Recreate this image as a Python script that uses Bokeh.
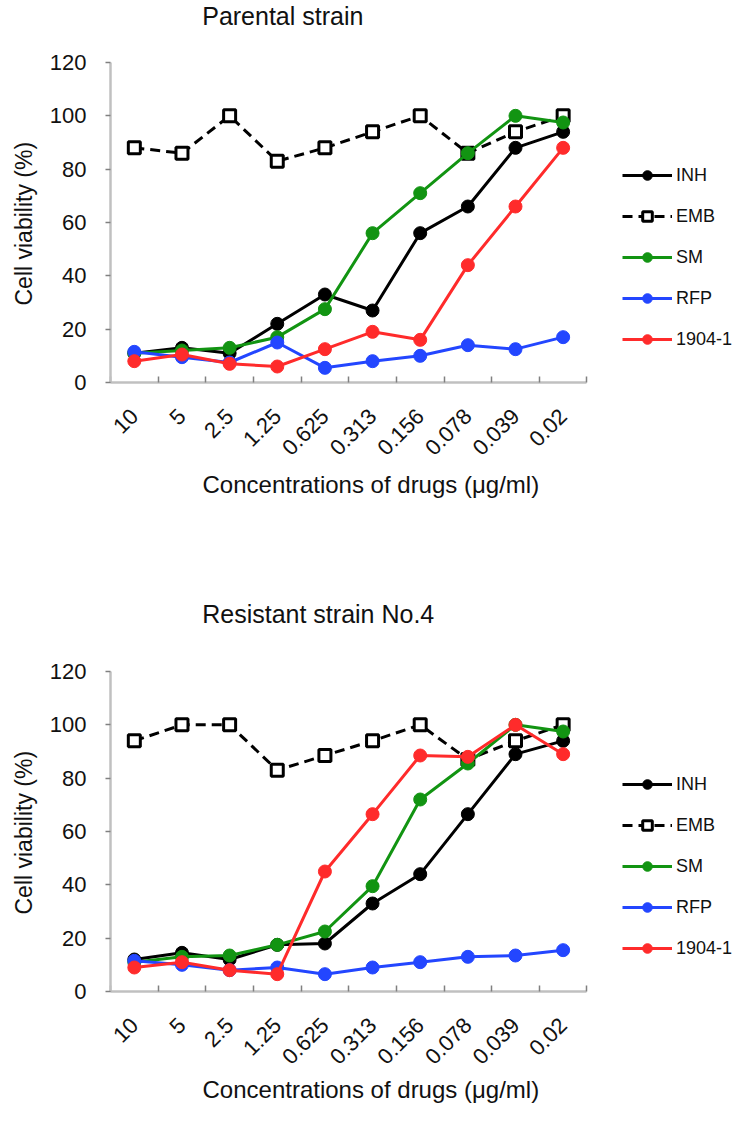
import math
from bokeh.plotting import figure
from bokeh.models import (Range1d, FixedTicker, Legend, LegendItem, LinearAxis,
                          Title, Label, ColumnDataSource)
from bokeh.layouts import column
from bokeh.embed import file_html
from bokeh.resources import INLINE

# ---------------- data ----------------
concentrations = ["10", "5", "2.5", "1.25", "0.625", "0.313", "0.156", "0.078", "0.039", "0.02"]
drugs = ["INH", "EMB", "SM", "RFP", "1904-1"]
y_ticks = [0, 20, 40, 60, 80, 100, 120]

parental_inh = [11, 13, 11, 22, 33, 27, 56, 66, 88, 94]
parental_emb = [88, 86, 100, 83, 88, 94, 100, 86, 94, 100]
parental_sm = [11, 12, 13, 17, 27.5, 56, 71, 86, 100, 97.5]
parental_rfp = [11.5, 9.5, 7.5, 15, 5.5, 8, 10, 14, 12.5, 17]
parental_1904 = [8, 10.5, 7, 6, 12.5, 19, 16, 44, 66, 88]

resistant_inh = [12, 14.5, 12, 17.5, 18, 33, 44, 66.5, 89, 94]
resistant_emb = [94, 100, 100, 83, 88.5, 94, 100, 87, 94, 100]
resistant_sm = [11, 13, 13.5, 17.5, 22.5, 39.5, 72, 85.5, 100, 97.5]
resistant_rfp = [11.5, 10, 8, 9, 6.5, 9, 11, 13, 13.5, 15.5]
resistant_1904 = [9, 11, 8, 6.5, 45, 66.5, 88.5, 88, 100, 89]

titles = ["Parental strain", "Resistant strain No.4"]
x_title = "Concentrations of drugs (\u03bcg/ml)"
y_title = "Cell viability (%)"

# ---------------- style / layout (pixels) ----------------
FONT = "Liberation Sans"
TXT = "#111111"
FIG_W = 733
LEFT = 108          # frame left border
AXIS_W = 478        # pixel length of the category axis
AXIS_H = 320        # pixel height of the 0..120 value axis
styles = {
    "INH": dict(color="#000000", dash="solid", marker="circle"),
    "EMB": dict(color="#000000", dash="10 6", marker="square"),
    "SM": dict(color="#129412", dash="solid", marker="circle"),
    "RFP": dict(color="#2346ff", dash="solid", marker="circle"),
    "1904-1": dict(color="#ff2b2b", dash="solid", marker="circle"),
}
draw_order = ["EMB", "INH", "SM", "RFP", "1904-1"]


def make_chart(title, series, height, top_px, title_px, bottom_border, xt_standoff):
    n = len(concentrations)
    xs = [i + 0.5 for i in range(n)]
    ymax = y_ticks[-1]
    frame_w = FIG_W - LEFT
    x_end = n * frame_w / AXIS_W                 # room on the right for the legend
    y_end = ymax * (AXIS_H + top_px) / AXIS_H    # room on top for the title
    p = figure(width=FIG_W, height=height,
               x_range=Range1d(0, x_end), y_range=Range1d(y_ticks[0], y_end),
               x_axis_type=None, y_axis_type=None,
               output_backend="svg", toolbar_location=None,
               min_border_left=LEFT, min_border_right=0,
               min_border_top=0, min_border_bottom=bottom_border)
    p.outline_line_color = None
    p.background_fill_color = "white"
    p.border_fill_color = "white"

    # y axis (line limited to 0..120)
    yaxis = LinearAxis(ticker=FixedTicker(ticks=y_ticks), bounds=(y_ticks[0], ymax))
    yaxis.axis_line_color = "#c0c0c0"
    yaxis.axis_line_width = 2.5
    yaxis.major_tick_line_color = "#808080"
    yaxis.major_tick_line_width = 1.5
    yaxis.major_tick_out = 5
    yaxis.major_tick_in = 0
    yaxis.minor_tick_line_color = None
    yaxis.major_label_standoff = 19
    yaxis.major_label_text_font = FONT
    yaxis.major_label_text_font_size = "22px"
    yaxis.major_label_text_color = TXT
    p.add_layout(yaxis, "left")
    p.add_layout(Title(text=y_title, align="left", offset=77, vertical_align="middle",
                       standoff=18, text_font=FONT, text_font_size="23px",
                       text_font_style="normal", text_color=TXT), "left")

    # x axis: category labels at centres, tick marks at category boundaries
    xaxis = LinearAxis(ticker=FixedTicker(ticks=xs, minor_ticks=list(range(n + 1))),
                       bounds=(0, n),
                       major_label_overrides={x: c for x, c in zip(xs, concentrations)})
    xaxis.axis_line_color = "#c0c0c0"
    xaxis.axis_line_width = 2.5
    xaxis.major_tick_line_color = None
    xaxis.major_tick_out = 0
    xaxis.major_tick_in = 0
    xaxis.minor_tick_line_color = "#808080"
    xaxis.minor_tick_line_width = 1.5
    xaxis.minor_tick_in = 6
    xaxis.minor_tick_out = 0
    xaxis.major_label_orientation = math.pi / 4
    xaxis.major_label_standoff = 30
    xaxis.major_label_text_font = FONT
    xaxis.major_label_text_font_size = "22px"
    xaxis.major_label_text_color = TXT
    p.add_layout(xaxis, "below")
    p.add_layout(Title(text=x_title, align="left", offset=92, vertical_align="top",
                       standoff=xt_standoff, text_font=FONT, text_font_size="24px",
                       text_font_style="normal", text_color=TXT), "below")

    # chart title inside the (extended) frame, above the 120 line
    px_x = n / AXIS_W
    px_y = ymax / AXIS_H
    p.add_layout(Label(x=92 * px_x, y=ymax + title_px * px_y, text=title,
                       text_align="left", text_baseline="middle",
                       text_font=FONT, text_font_size="25px", text_color=TXT))

    rend = {}
    for name in draw_order:
        st = styles[name]
        src = ColumnDataSource(dict(x=xs, y=series[name]))
        ln = p.line("x", "y", source=src, line_color=st["color"], line_width=3,
                    line_dash=st["dash"])
        if st["marker"] == "square":
            sc = p.scatter("x", "y", source=src, marker="square", size=12,
                           fill_color="white", line_color=st["color"], line_width=3)
        else:
            sc = p.scatter("x", "y", source=src, marker="circle", size=13,
                           fill_color=st["color"], line_color=st["color"])
        rend[name] = [ln, sc]

    legend = Legend(items=[LegendItem(label=name, renderers=rend[name]) for name in drugs],
                    location=(512, 31), orientation="vertical",
                    glyph_width=50, glyph_height=24, label_height=24,
                    label_standoff=4, spacing=17, padding=0, margin=0,
                    border_line_color=None, background_fill_alpha=0,
                    label_text_font=FONT, label_text_font_size="18px",
                    label_text_color=TXT)
    p.add_layout(legend, "center")
    return p


p1 = make_chart(titles[0], {"INH": parental_inh, "EMB": parental_emb, "SM": parental_sm,
                            "RFP": parental_rfp, "1904-1": parental_1904},
                height=595, top_px=62, title_px=47, bottom_border=213, xt_standoff=10)
p2 = make_chart(titles[1], {"INH": resistant_inh, "EMB": resistant_emb, "SM": resistant_sm,
                            "RFP": resistant_rfp, "1904-1": resistant_1904},
                height=515, top_px=76, title_px=58, bottom_border=119, xt_standoff=2)

layout = column(p1, p2, spacing=0)
open("out.html", "w").write(file_html(layout, INLINE))
